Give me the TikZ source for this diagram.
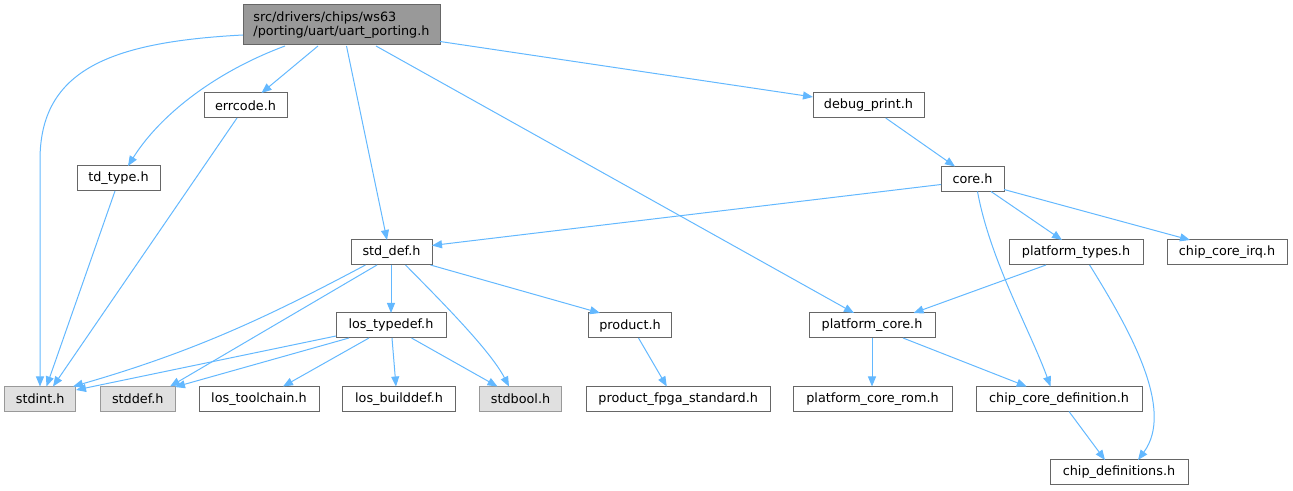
\documentclass[tikz,border=0pt]{standalone}
\usepackage{fontspec}
\setmainfont{DejaVu Sans}
\usetikzlibrary{arrows.meta,calc}
\definecolor{edgeblue}{HTML}{63B8FF}
\definecolor{boxborder}{HTML}{666666}
\definecolor{rootfill}{HTML}{999999}
\definecolor{grayfill}{HTML}{E0E0E0}
\definecolor{grayborder}{HTML}{999999}
\begin{document}
\begin{tikzpicture}[x=0.75pt,y=-0.75pt,
  box/.style={draw=boxborder, line width=0.75pt, fill=white, inner sep=0pt,
    minimum height={25*0.75pt}, font=\fontsize{9.6}{11}\selectfont},
  gbox/.style={box, fill=grayfill, draw=grayborder},
  bw/.style={minimum width={#1*0.75pt}},
  dep/.style={draw=edgeblue, line width=0.75pt, -{Triangle[length=7.5pt,width=6pt]}},
]
\useasboundingbox (0,0) rectangle (1293,491);

% nodes
\node[box, fill=rootfill, bw=197, minimum height={40*0.75pt}, align=left] (root) at (341.5,25) {src/drivers/chips/ws63\\/porting/uart/uart\_porting.h};
\node[box, bw=83] (errcode) at (245.5,105.5) {errcode.h};
\node[box, bw=111] (debugprint) at (868.5,105.5) {debug\_print.h};
\node[box, bw=83] (tdtype) at (118.5,178.5) {td\_type.h};
\node[box, bw=63] (core) at (972.5,179) {core.h};
\node[box, bw=81] (stddefh) at (391.5,252.5) {std\_def.h};
\node[box, bw=134] (ptypes) at (1076,252.5) {platform\_types.h};
\node[box, bw=120] (cirq) at (1227,252.5) {chip\_core\_irq.h};
\node[box, bw=110] (lostypedef) at (391,325.5) {los\_typedef.h};
\node[box, bw=83] (product) at (630,325.5) {product.h};
\node[box, bw=126] (pcore) at (872,325.5) {platform\_core.h};
\node[gbox, bw=71] (stdint) at (40.2,399) {stdint.h};
\node[gbox, bw=75] (stddef) at (137.8,399) {stddef.h};
\node[box, bw=120] (loschain) at (259,399) {los\_toolchain.h};
\node[box, bw=112.5] (losbuild) at (399,399) {los\_builddef.h};
\node[gbox, bw=82.6] (stdbool) at (520.5,399) {stdbool.h};
\node[box, bw=183.7] (fpga) at (678.2,399) {product\_fpga\_standard.h};
\node[box, bw=159] (pcrom) at (872.5,399) {platform\_core\_rom.h};
\node[box, bw=166] (ccd) at (1059,399) {chip\_core\_definition.h};
\node[box, bw=138] (cdefs) at (1119,472.5) {chip\_definitions.h};

% edges from root
\draw[dep] ($(root)+(-98.5,10)$) .. controls (110,42) and (40,70) .. (40,160) -- ($(stdint)+(-0.2,-12.5)$);
\draw[dep] ($(root)+(-56.5,21)$) .. controls (215,72) and (160,115) .. ($(tdtype)+(9.5,-12.5)$);
\draw[dep] ($(root)+(-23.5,21)$) -- ($(errcode)+(16,-12.5)$);
\draw[dep] ($(root)+(5,21)$) -- ($(stddefh)+(-4.5,-12.5)$);
\draw[dep] ($(root)+(34.5,21)$) -- ($(pcore)+(-18,-12.5)$);
\draw[dep] ($(root)+(98.5,16.5)$) -- ($(debugprint)+(-55.5,-8.5)$);

\draw[dep] ($(errcode)+(-8.5,12.5)$) -- ($(stdint)+(12.8,-12.5)$);
\draw[dep] ($(tdtype)+(-3.5,12.5)$) -- ($(stdint)+(6.3,-12.5)$);
\draw[dep] ($(debugprint)+(17.2,12.5)$) -- ($(core)+(-17.5,-12.5)$);

% core
\draw[dep] ($(core)+(-31.5,5.5)$) -- ($(stddefh)+(40.5,-7)$);
\draw[dep] ($(core)+(18.5,12.5)$) -- ($(ptypes)+(-14,-12.5)$);
\draw[dep] ($(core)+(31.5,10.5)$) -- ($(cirq)+(-37,-12.5)$);
\draw[dep] ($(core)+(5,12.5)$) .. controls (990,260) and (1030,330) .. ($(ccd)+(-8.5,-12.5)$);

% std_def
\draw[dep] ($(stddefh)+(-26,12.5)$) .. controls (275,313) and (200,350) .. ($(stdint)+(32.8,-12.5)$);
\draw[dep] ($(stddefh)+(-14.5,12.5)$) -- ($(stddef)+(32.2,-12.5)$);
\draw[dep] ($(stddefh)+(-0.5,12.5)$) -- ($(lostypedef)+(0,-12.5)$);
\draw[dep] ($(stddefh)+(14,12.5)$) .. controls (440,300) and (490,350) .. ($(stdbool)+(-11.5,-12.5)$);
\draw[dep] ($(stddefh)+(39,12.5)$) -- ($(product)+(-30,-12.5)$);

% los_typedef
\draw[dep] ($(lostypedef)+(-55,10.5)$) -- ($(stdint)+(35.8,-9)$);
\draw[dep] ($(lostypedef)+(-42,12.5)$) -- ($(stddef)+(37.2,-12)$);
\draw[dep] ($(lostypedef)+(-22,12.5)$) -- ($(loschain)+(24,-12.5)$);
\draw[dep] ($(lostypedef)+(1,12.5)$) -- ($(losbuild)+(-3,-12.5)$);
\draw[dep] ($(lostypedef)+(20.5,12.5)$) -- ($(stdbool)+(-23,-12.5)$);

% product
\draw[dep] ($(product)+(8.5,12.5)$) -- ($(fpga)+(-11.4,-12.5)$);

% platform_types
\draw[dep] ($(ptypes)+(-30,12.5)$) -- ($(pcore)+(41.6,-12.5)$);
\draw[dep] ($(ptypes)+(13.6,12.5)$) .. controls (1130,330) and (1175,410) .. ($(cdefs)+(19,-12.5)$);

% platform_core
\draw[dep] ($(pcore)+(0,12.5)$) -- ($(pcrom)+(-0.5,-12.5)$);
\draw[dep] ($(pcore)+(31,12.5)$) -- ($(ccd)+(-32.3,-12.5)$);

% chip_core_definition
\draw[dep] ($(ccd)+(10,12.5)$) -- ($(cdefs)+(-14,-12.5)$);
\end{tikzpicture}
\end{document}
